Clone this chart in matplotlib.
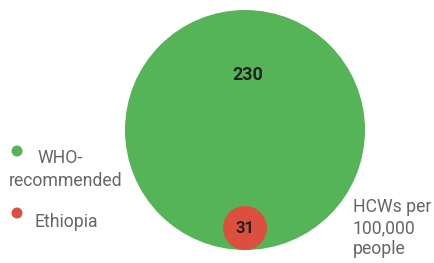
import numpy as np
import matplotlib
matplotlib.use("Agg")
import matplotlib.pyplot as plt
from matplotlib.patches import Circle

categories = ["WHO-\nrecommended", "Ethiopia"]
values = [230, 31]
colors = ["#56b458", "#dc4f3e"]
unit_label = "HCWs per\n100,000\npeople"

W, H = 435, 263
fig = plt.figure(figsize=(W / 100, H / 100), dpi=100)
ax = fig.add_axes([0, 0, 1, 1])
ax.set_xlim(0, W)
ax.set_ylim(H, 0)
ax.set_aspect("equal")
ax.axis("off")

# radius scale (sqrt)
sv = np.sqrt(values)
radii = np.interp(sv, [np.sqrt(min(values)), np.sqrt(max(values))], [22, 120])
cx, base = 245, 250
font = "Roboto"
for v, r, c in zip(values, radii, colors):
    cy = base - r
    ax.add_patch(Circle((cx, cy), r, color=c, lw=0))
    if r > 60:
        ax.text(cx + 3, cy - 55, str(v), ha="center", va="center", fontsize=13,
                fontweight="bold", color="#222222", family=font)
    else:
        ax.text(cx, cy + 1, str(v), ha="center", va="center", fontsize=12,
                fontweight="bold", color="#222222", family=font)

fs = 12.7
# legend
ax.add_patch(Circle((17, 151), 5.5, color=colors[0], lw=0))
ax.text(37, 158, "WHO-", ha="left", va="center", fontsize=fs, color="#666666", family=font)
ax.text(9, 181, "recommended", ha="left", va="center", fontsize=fs, color="#666666", family=font)
ax.add_patch(Circle((17, 213), 5.5, color=colors[1], lw=0))
ax.text(35, 222, categories[1], ha="left", va="center", fontsize=fs, color="#666666", family=font)

ax.text(353, 228, unit_label, ha="left", va="center", fontsize=fs, color="#666666",
        family=font, linespacing=1.2)

fig.savefig("out.png", dpi=100)
